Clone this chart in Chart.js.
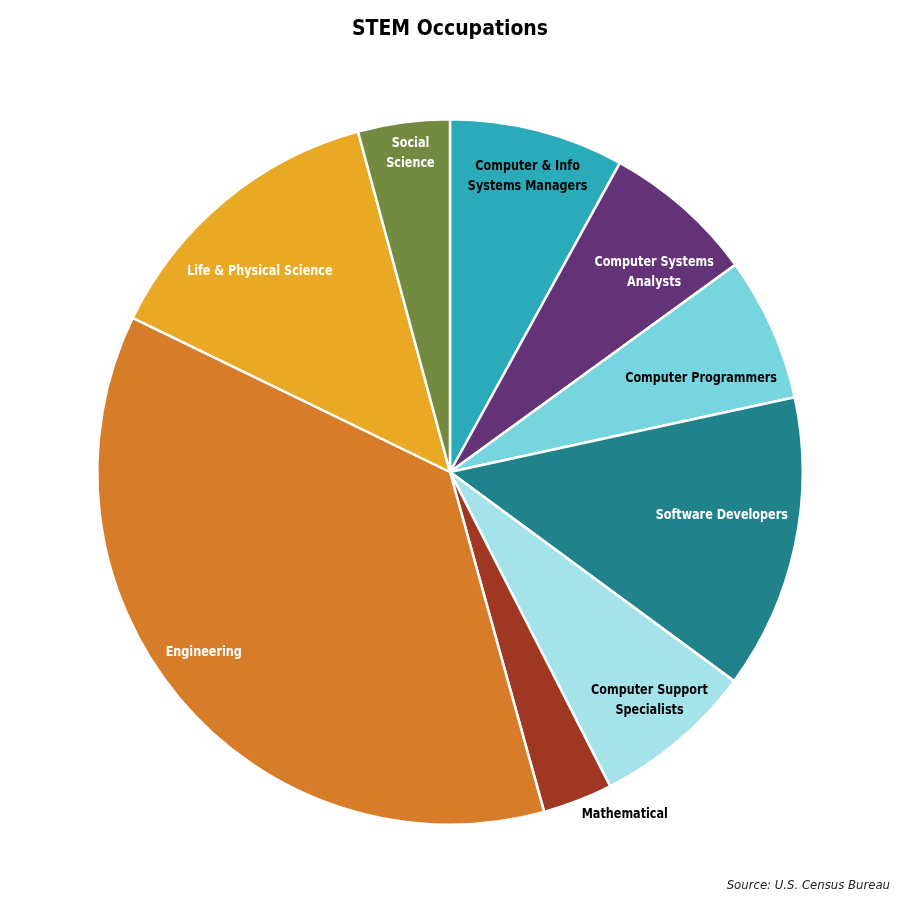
<!DOCTYPE html>
<html>
<head>
<meta charset="utf-8">
<script src="https://cdn.jsdelivr.net/npm/chart.js@4.4.1/dist/chart.umd.min.js"></script>
<style>
  html, body { margin: 0; padding: 0; background: #ffffff; }
  #wrap { width: 900px; height: 900px; }
</style>
</head>
<body>
<div id="wrap"><canvas id="c" width="900" height="900"></canvas></div>
<script>
// ---- data ----
const categories = [
  "Computer & Info\nSystems Managers",
  "Computer Systems\nAnalysts",
  "Computer Programmers",
  "Software Developers",
  "Computer Support\nSpecialists",
  "Mathematical",
  "Engineering",
  "Life & Physical Science",
  "Social\nScience"
];
const shares = [8.0, 7.0, 6.6, 13.5, 7.4, 3.2, 36.5, 13.6, 4.2];
const sliceColors = ["#2BAAB9", "#633277", "#76D5DF", "#20828B", "#A5E3EB", "#A03722", "#D77C28", "#EAA925", "#728B41"];
const labelColors = ["#000000", "#ffffff", "#000000", "#ffffff", "#000000", "#000000", "#ffffff", "#ffffff", "#ffffff"];
// label placement relative to each slice (radius fraction, angle shift in degrees)
const labelRadius = [0.867, 0.81, 0.76, 0.78, 0.86, 1.09, 0.865, 0.785, 0.911];
const labelShift = [0.3, 4.2, 3.6, -3.1, -0.8, -5.8, 3.6, -3.8, 0.5];

const FONT = "'Liberation Sans Narrow', 'DejaVu Sans Condensed', 'Roboto Condensed', sans-serif";

const sliceLabels = {
  id: 'sliceLabels',
  afterDatasetsDraw(chart) {
    const ctx = chart.ctx;
    const meta = chart.getDatasetMeta(0);
    const squeeze = 0.86;
    meta.data.forEach((arc, i) => {
      const p = arc.getProps(['x', 'y', 'startAngle', 'endAngle', 'outerRadius'], true);
      const mid = (p.startAngle + p.endAngle) / 2 + labelShift[i] * Math.PI / 180;
      const r = p.outerRadius * labelRadius[i];
      const cx = p.x + Math.cos(mid) * r;
      const cy = p.y + Math.sin(mid) * r;
      const lines = categories[i].split('\n');
      const lh = 20;
      ctx.save();
      ctx.translate(cx, cy);
      ctx.scale(squeeze, 1);
      ctx.font = "bold 14.5px " + FONT;
      ctx.textAlign = 'center';
      ctx.textBaseline = 'middle';
      ctx.fillStyle = labelColors[i];
      lines.forEach((ln, k) => {
        ctx.fillText(ln, 0, (k - (lines.length - 1) / 2) * lh);
      });
      ctx.restore();
    });
  }
};

new Chart(document.getElementById('c'), {
  type: 'pie',
  data: {
    labels: categories,
    datasets: [{
      data: shares,
      backgroundColor: sliceColors,
      borderColor: '#ffffff',
      borderWidth: 2.5
    }]
  },
  options: {
    responsive: false,
    animation: false,
    layout: { padding: { left: 10, right: 10, top: 0, bottom: 0 } },
    plugins: {
      legend: { display: false },
      tooltip: { enabled: false },
      title: {
        display: true,
        text: 'STEM Occupations',
        color: '#000000',
        font: { family: FONT, size: 21, weight: 'bold', lineHeight: 1.2 },
        padding: { top: 17.4, bottom: 75.4 }
      },
      subtitle: {
        display: true,
        position: 'bottom',
        align: 'end',
        text: 'Source: U.S. Census Bureau',
        color: '#222222',
        font: { family: FONT, size: 13, style: 'italic', weight: 'normal', lineHeight: 1.2 },
        padding: { top: 51.6, bottom: 6.8 }
      }
    }
  },
  plugins: [sliceLabels]
});
</script>
</body>
</html>
